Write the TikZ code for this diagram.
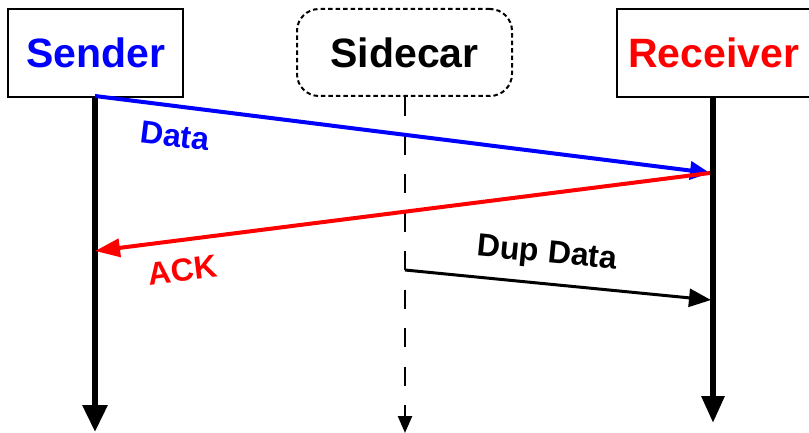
\documentclass[tikz,border=0pt]{standalone}
\usepackage{fontspec}
\setmainfont{Liberation Sans}
\usetikzlibrary{arrows.meta}

\definecolor{msgblue}{RGB}{0,0,255}
\definecolor{msgred}{RGB}{255,0,0}

\tikzset{
  party/.style={draw=black, line width=2pt, fill=white, inner sep=0pt,
    font=\fontsize{41}{48}\selectfont\bfseries},
  sidebox/.style={party, dash pattern=on 4.5pt off 3pt, rounded corners=22pt},
  lifeline/.style={line width=6pt, -{Triangle[length=27pt,width=24pt]}},
  sidelife/.style={line width=2.5pt, dash pattern=on 19.25pt off 19.25pt,
    -{Triangle[length=17pt,width=14pt]}},
  msg/.style={line width=4pt},
  msglabel/.style={font=\fontsize{32}{36}\selectfont\bfseries, inner sep=0pt}
}

\begin{document}
\begin{tikzpicture}[x=1pt,y=-1pt]
  \useasboundingbox (0,0) rectangle (809,433);
  \clip (0,0) rectangle (809,433);

  % participants
  \node[party, minimum width=175pt, minimum height=88pt, text=msgblue]
    (sender) at (95.5,53) {Sender};
  \node[sidebox, minimum width=215pt, minimum height=87pt]
    (sidecar) at (404.5,52.5) {Sidecar};
  \node[party, minimum width=193pt, minimum height=88pt, text=msgred]
    (receiver) at (713.5,53) {Receiver};

  % lifeline end points
  \coordinate (sTop) at (95,97);
  \coordinate (sBot) at (95,432);
  \coordinate (cTop) at (405,97);
  \coordinate (cBot) at (405,433);
  \coordinate (rTop) at (713,97);
  \coordinate (rBot) at (713,423);

  \draw[lifeline] (sTop) -- (sBot);
  \draw[lifeline, -{Triangle[length=27pt,width=22pt]}] (rTop) -- (rBot);
  \draw[sidelife] (cTop) -- (cBot);

  % message end points
  \coordinate (dataFrom) at (95,96);
  \coordinate (dataTo) at (710,173);
  \coordinate (ackTo) at (95,251);
  \coordinate (dupFrom) at (405,270);
  \coordinate (dupTo) at (711,300);

  % messages
  \draw[msg, draw=msgblue, -{Triangle[length=20pt,width=18pt]}] (dataFrom) -- (dataTo);
  \draw[msg, draw=msgred, -{Triangle[length=25pt,width=18pt]}] (dataTo) -- (ackTo);
  \draw[line width=3pt, -{Triangle[length=22pt,width=18pt]}] (dupFrom) -- (dupTo);

  % message labels
  \node[msglabel, text=msgblue, rotate=-7] (dataLbl) at (175,136) {Data};
  \node[msglabel, text=msgred, rotate=7] (ackLbl) at (183,270) {ACK};
  \node[msglabel, rotate=-5.6] (dupLbl) at (547,255) {Dup Data};
\end{tikzpicture}
\end{document}
